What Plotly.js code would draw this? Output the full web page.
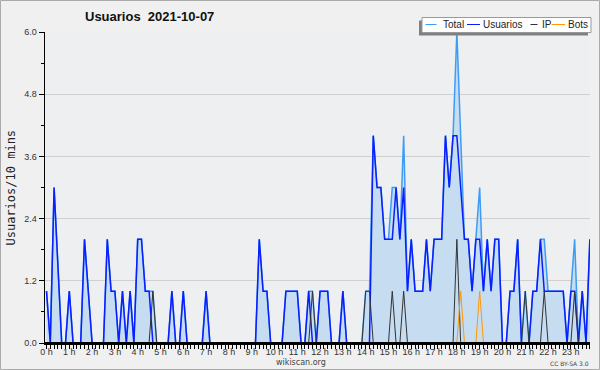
<!DOCTYPE html>
<html>
<head>
<meta charset="utf-8">
<script src="https://cdn.plot.ly/plotly-3.0.1.min.js"></script>
<style>
html,body{margin:0;padding:0;background:#F0F0F0;}
#chart{width:600px;height:370px;}
</style>
</head>
<body>
<div id="chart"></div>
<script>
// 10-minute slots of 2021-10-07 (144 slots, 0 h .. 23 h 50)
const slotCount = 144;
const hourLabels = ["0 h","1 h","2 h","3 h","4 h","5 h","6 h","7 h","8 h","9 h","10 h","11 h",
  "12 h","13 h","14 h","15 h","16 h","17 h","18 h","19 h","20 h","21 h","22 h","23 h"];
const hourTicks = [0,1,2,3,4,5,6,7,8,9,10,11,12,13,14,15,16,17,18,19,20,21,22,23];

const total = [
  1,0,3,1.5,0,0,1,0,0,0,
  2,1,0,0,0,0,2,1,1,0,
  1,0,1,0,2,2,1,1,1,0,
  0,0,0,1,0,0,1,0,0,0,
  0,0,1,0,0,0,0,0,0,0,
  0,0,0,0,0,0,2,1,1,0,
  0,0,0,1,1,1,1,0,0,1,
  1,0,1,1,1,0,0,0,1,0,
  0,0,0,0,1,1,4,3,3,2,
  2,3,3,2,4,1,2,1,1,1,
  2,1,2,2,2,4,3,4,6,4,
  2,2,1,2,3,1,2,1,2,2,
  0,0,1,1,2,0,1,0,1,1,
  2,2,1,1,1,1,1,0,1,2,
  0,1,0,2];

const usuarios = [
  1,0,3,1.5,0,0,1,0,0,0,
  2,1,0,0,0,0,2,1,1,0,
  1,0,1,0,2,2,1,1,0,0,
  0,0,0,1,0,0,1,0,0,0,
  0,0,1,0,0,0,0,0,0,0,
  0,0,0,0,0,0,2,1,1,0,
  0,0,0,1,1,1,1,0,0,1,
  0,0,1,1,1,0,0,0,1,0,
  0,0,0,0,0,0,4,3,3,2,
  2,2,3,2,3,1,2,1,1,1,
  2,1,2,2,2,4,3,4,4,3,
  2,2,1,2,2,1,2,1,2,2,
  0,0,1,1,2,0,0,0,1,1,
  2,1,1,1,1,1,1,0,1,1,
  0,1,0,2];

const ip = [
  0,0,0,0,0,0,0,0,0,0,
  0,0,0,0,0,0,0,0,0,0,
  0,0,0,0,0,0,0,0,1,0,
  0,0,0,0,0,0,0,0,0,0,
  0,0,0,0,0,0,0,0,0,0,
  0,0,0,0,0,0,0,0,0,0,
  0,0,0,0,0,0,0,0,0,0,
  1,0,0,0,0,0,0,0,0,0,
  0,0,0,0,1,1,0,0,0,0,
  0,1,0,0,1,0,0,0,0,0,
  0,0,0,0,0,0,0,0,2,0,
  0,0,0,0,0,0,0,0,0,0,
  0,0,0,0,0,0,1,0,0,0,
  0,1,0,0,0,0,0,0,0,1,
  0,0,0,0];

const bots = [
  0,0,0,0,0,0,0,0,0,0,
  0,0,0,0,0,0,0,0,0,0,
  0,0,0,0,0,0,0,0,0,0,
  0,0,0,0,0,0,0,0,0,0,
  0,0,0,0,0,0,0,0,0,0,
  0,0,0,0,0,0,0,0,0,0,
  0,0,0,0,0,0,0,0,0,0,
  0,0,0,0,0,0,0,0,0,0,
  0,0,0,0,0,0,0,0,0,0,
  0,0,0,0,0,0,0,0,0,0,
  0,0,0,0,0,0,0,0,0,1,
  0,0,0,0,1,0,0,0,0,0,
  0,0,0,0,0,0,0,0,0,0,
  0,0,0,0,0,0,0,0,0,0,
  0,0,0,0];

const yTicks = [0,1.2,2.4,3.6,4.8,6.0];
const seriesNames = ["Total","Usuarios","IP","Bots"];
const seriesColors = ["#3D9DF5","#0A1EFF","#333333","#FF9900"];

// slot positions in hours
const slotHours = Array.from({length: slotCount}, (_, i) => i / 6);

// pixel helpers for paper coordinates (plot area: x 45..590, y 32..343)
const L = 45, R = 590, T = 32, B = 343;
const px = v => (v - L) / (R - L);
const py = v => (B - v) / (B - T);

const traces = [
  {x: slotHours, y: total, name: seriesNames[0], type: "scatter", mode: "lines",
   line: {color: seriesColors[0], width: 1.5}, fill: "tozeroy", fillcolor: "#C6DCF1"},
  {x: slotHours, y: usuarios, name: seriesNames[1], type: "scatter", mode: "lines",
   line: {color: seriesColors[1], width: 1.5}},
  {x: slotHours, y: ip, name: seriesNames[2], type: "scatter", mode: "lines",
   line: {color: seriesColors[2], width: 1}},
  {x: slotHours, y: bots, name: seriesNames[3], type: "scatter", mode: "lines",
   line: {color: seriesColors[3], width: 1}}
];

// custom legend (box with shadow, short lines + labels)
const legendItems = [
  {line: [425.5, 436.5], text: 442},
  {line: [467, 480], text: 482},
  {line: [530.5, 537.5], text: 540.5},
  {line: [551.5, 565], text: 567}
];
const legendY = 24.5;

const shapes = [
  // outer frame
  {type: "rect", xref: "paper", yref: "paper", x0: px(0.5), x1: px(599.5), y0: py(0.5), y1: py(369.5),
   line: {color: "#AAAAAA", width: 1}, fillcolor: "rgba(0,0,0,0)", layer: "below"},
  // baseline over zero values
  {type: "line", xref: "paper", yref: "y", x0: 0, x1: 1, y0: 0, y1: 0,
   line: {color: "#000000", width: 2}, layer: "above"},
  // legend shadow
  {type: "rect", xref: "paper", yref: "paper", x0: px(419), x1: px(588), y0: py(20.5), y1: py(35.5),
   line: {width: 0}, fillcolor: "#808080", layer: "above"},
  // legend box
  {type: "rect", xref: "paper", yref: "paper", x0: px(422), x1: px(591), y0: py(17.5), y1: py(32.5),
   line: {color: "#999999", width: 1}, fillcolor: "#FFFFFF", layer: "above"}
];
legendItems.forEach((it, k) => {
  shapes.push({type: "line", xref: "paper", yref: "paper", x0: px(it.line[0]), x1: px(it.line[1]),
    y0: py(legendY), y1: py(legendY), line: {color: seriesColors[k], width: 1}, layer: "above"});
});

const annotations = legendItems.map((it, k) => ({
  xref: "paper", yref: "paper", x: px(it.text), y: py(legendY), xanchor: "left", yanchor: "middle",
  text: seriesNames[k], showarrow: false, borderpad: 0,
  font: {family: "Liberation Sans, Arial, sans-serif", size: 10, color: "#222222"}
}));
annotations.push(
  {xref: "paper", yref: "paper", x: px(10), y: py(187.5), textangle: -90, showarrow: false,
   text: "Usuarios/10 mins", xanchor: "center", yanchor: "middle",
   font: {family: "DejaVu Sans Mono, monospace", size: 12, color: "#222222"}},
  {xref: "paper", yref: "paper", x: px(300.5), y: py(362.5), showarrow: false,
   text: "wikiscan.org", xanchor: "center", yanchor: "middle", borderpad: 0,
   font: {family: "DejaVu Sans, sans-serif", size: 8, color: "#444444"}},
  {xref: "paper", yref: "paper", x: px(590), y: py(363.5), showarrow: false,
   text: "CC BY-SA 3.0", xanchor: "right", yanchor: "middle", borderpad: 0,
   font: {family: "DejaVu Sans, sans-serif", size: 6, color: "#444444"}}
);

const layout = {
  width: 600, height: 370,
  margin: {l: L, r: 600 - R, t: T, b: 370 - B, pad: 0},
  paper_bgcolor: "#F0F0F0",
  plot_bgcolor: "#EEEFF1",
  showlegend: false,
  title: {text: "<b>Usuarios&nbsp;&nbsp;2021-10-07</b>", xref: "container", yref: "container",
    x: 85 / 600, xanchor: "left", y: 1 - 16.5 / 370, yanchor: "middle",
    font: {family: "Liberation Sans, Arial, sans-serif", size: 13, color: "#111111"}},
  xaxis: {
    range: [-0.066, 23.84], tickmode: "array", tickvals: hourTicks, ticktext: hourLabels,
    ticks: "outside", ticklen: 4, tickwidth: 1, tickcolor: "#000000",
    ticklabelstandoff: -4,
    minor: {tickmode: "linear", tick0: 0, dtick: 1 / 6, ticks: "outside", ticklen: 4, tickwidth: 1, tickcolor: "#000000", showgrid: false},
    showgrid: false, zeroline: false, showline: true, linecolor: "#000000", linewidth: 1.5,
    tickfont: {family: "Liberation Sans, Arial, sans-serif", size: 9, color: "#333333"},
    fixedrange: true
  },
  yaxis: {
    range: [0, 6], tickmode: "array", tickvals: yTicks, ticktext: yTicks.map(v => v.toFixed(1)),
    ticks: "outside", ticklen: 5, tickwidth: 1, tickcolor: "#000000",
    minor: {tickmode: "linear", tick0: 0, dtick: 0.6, ticks: "outside", ticklen: 3, tickwidth: 1, tickcolor: "#000000", showgrid: false},
    showgrid: true, gridcolor: "#CFCFCF", gridwidth: 1, zeroline: false,
    showline: true, linecolor: "#000000", linewidth: 1.5,
    tickfont: {family: "Liberation Sans, Arial, sans-serif", size: 9, color: "#333333"},
    fixedrange: true
  },
  shapes: shapes,
  annotations: annotations
};

Plotly.newPlot("chart", traces, layout, {staticPlot: true, displayModeBar: false});
</script>
</body>
</html>
